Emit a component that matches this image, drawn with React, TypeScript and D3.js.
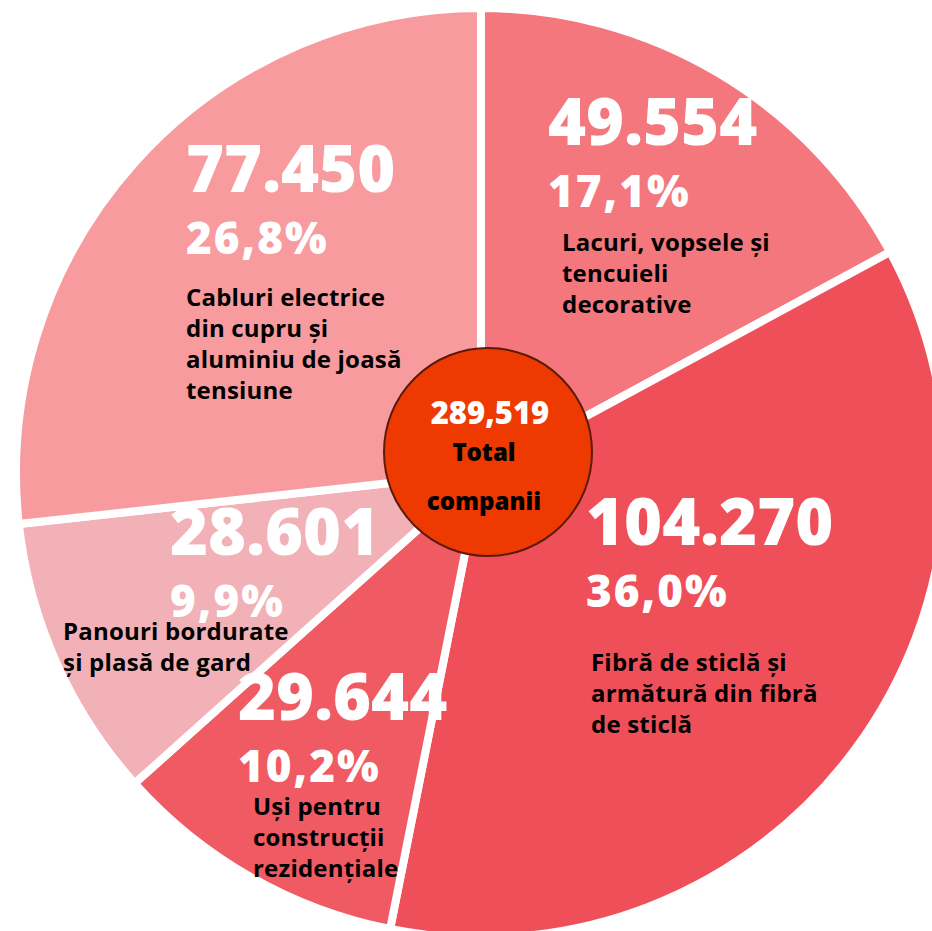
import { useEffect, useRef } from 'react';
import * as d3 from 'd3';

const categories = [
  'Lacuri, vopsele și|tencuieli|decorative',
  'Fibră de sticlă și|armătură din fibră|de sticlă',
  'Uși pentru|construcții|rezidențiale',
  'Panouri bordurate|și plasă de gard',
  'Cabluri electrice|din cupru și|aluminiu de joasă|tensiune',
];
const counts = [49554, 104270, 29644, 28601, 77450];
const countLabels = ['49.554', '104.270', '29.644', '28.601', '77.450'];
const percentLabels = ['17,1%', '36,0%', '10,2%', '9,9%', '26,8%'];
const colors = ['#F3777C', '#EF4F58', '#F05A63', '#F1B1B6', '#F79B9F'];
const totalLabel = '289,519';
const totalText = ['Total', 'companii'];

// where the text blocks sit (left x, baseline of the big number)
const labelPos: [number, number][] = [
  [548, 145],
  [586, 545],
  [238, 720],
  [170, 555],
  [186, 192],
];
const labelIndent = [14, 5, 15, -107, 0];
const labelDrop = [106, 126, 95, 85, 114];

export default function App() {
  const svgRef = useRef<SVGSVGElement>(null);

  useEffect(() => {
    const svg = d3.select(svgRef.current);
    svg.selectAll('*').remove();

    const cx = 481;
    const cy = 473;
    const font = '"Open Sans", Lato, sans-serif';

    const pie = d3.pie<number>().sort(null).value(d => d).startAngle(0).endAngle(2 * Math.PI);
    const arc = d3.arc<d3.PieArcDatum<number>>().innerRadius(0).outerRadius(465);

    const g = svg.append('g').attr('transform', `translate(${cx},${cy})`);

    g.selectAll('path')
      .data(pie(counts))
      .enter()
      .append('path')
      .attr('d', arc)
      .attr('fill', (d, i) => colors[i])
      .attr('stroke', '#fff')
      .attr('stroke-width', 8)
      .attr('stroke-linejoin', 'miter');

    const labels = svg.append('g');
    counts.forEach((c, i) => {
      const [x, y] = labelPos[i];
      labels.append('text')
        .attr('x', x).attr('y', y)
        .attr('font-family', font).attr('font-weight', 800)
        .attr('font-size', 65).attr('fill', '#fff')
        .text(countLabels[i]);
      labels.append('text')
        .attr('x', x).attr('y', y + 62)
        .attr('font-family', font).attr('font-weight', 800)
        .attr('font-size', 44).attr('fill', '#fff')
        .attr('letter-spacing', 2)
        .text(percentLabels[i]);
      const lines = categories[i].split('|');
      lines.forEach((ln, j) => {
        labels.append('text')
          .attr('x', x + labelIndent[i]).attr('y', y + labelDrop[i] + j * 31)
          .attr('font-family', font).attr('font-weight', 700)
          .attr('font-size', 24).attr('fill', '#000')
          .attr('letter-spacing', 0.2)
          .text(ln);
      });
    });

    // the total bubble in the middle
    const center = svg.append('g');
    center.append('circle')
      .attr('cx', 488).attr('cy', 452).attr('r', 104)
      .attr('fill', '#EE3A00')
      .attr('stroke', '#5B1A0C')
      .attr('stroke-width', 2);
    center.append('text')
      .attr('x', 490).attr('y', 424)
      .attr('text-anchor', 'middle')
      .attr('font-family', font).attr('font-weight', 800)
      .attr('font-size', 31).attr('fill', '#fff')
      .text(totalLabel);
    center.append('text')
      .attr('x', 484).attr('y', 461)
      .attr('text-anchor', 'middle')
      .attr('font-family', font).attr('font-weight', 800)
      .attr('font-size', 24).attr('fill', '#000')
      .text(totalText[0]);
    center.append('text')
      .attr('x', 484).attr('y', 510)
      .attr('text-anchor', 'middle')
      .attr('font-family', font).attr('font-weight', 800)
      .attr('font-size', 24).attr('fill', '#000')
      .text(totalText[1]);
  }, []);

  return (
    <svg ref={svgRef} width={932} height={931}
      style={{ position: 'absolute', left: 0, top: 0, background: '#fff' }} />
  );
}
